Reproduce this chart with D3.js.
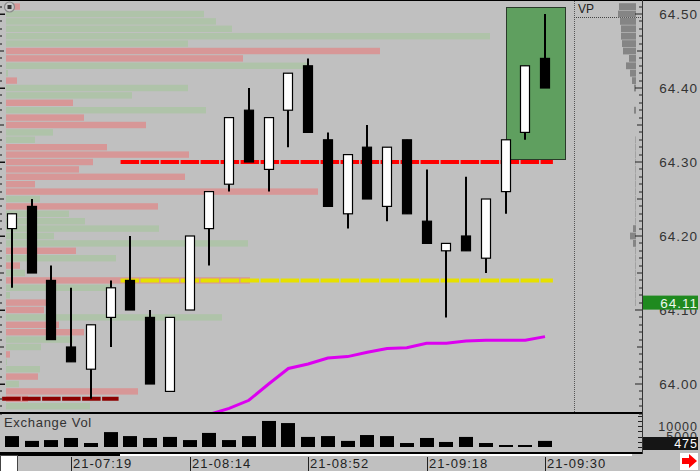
<!DOCTYPE html>
<html>
<head>
<meta charset="utf-8">
<script src="https://cdn.jsdelivr.net/npm/d3@7"></script>
<style>
body { margin: 0; background: #c0c0c0; }
svg { display: block; font-family: "Liberation Sans", Arial, sans-serif; }
</style>
</head>
<body>
<svg width="700" height="471"></svg>
<script>
// candles, oldest first
var opens  = [64.21,64.24,64.14,64.05,64.02,64.09,64.14,64.09,63.99,64.10,64.21,64.27,64.37,64.29,64.37,64.43,64.33,64.23,64.32,64.24,64.33,64.22,64.18,64.20,64.17,64.26,64.34,64.44];
var highs  = [64.23,64.25,64.16,64.13,64.08,64.14,64.20,64.10,64.09,64.20,64.26,64.36,64.40,64.36,64.42,64.44,64.34,64.31,64.35,64.32,64.33,64.29,64.19,64.28,64.25,64.33,64.43,64.50];
var lows   = [64.13,64.15,64.06,64.03,63.98,64.05,64.10,64.00,63.99,64.10,64.16,64.26,64.30,64.26,64.32,64.34,64.24,64.21,64.25,64.22,64.23,64.19,64.09,64.18,64.15,64.23,64.33,64.40];
var closes = [64.23,64.15,64.06,64.03,64.08,64.13,64.10,64.00,64.09,64.20,64.26,64.36,64.30,64.36,64.42,64.34,64.24,64.31,64.25,64.32,64.23,64.19,64.19,64.18,64.25,64.33,64.43,64.40];
var volumes = [5200,2900,3300,4300,1900,7100,5200,4300,4800,3300,6700,3300,5200,12400,11400,4800,5200,2900,5700,5200,1900,4300,2400,4800,1900,950,950,2900];

// moving average line (starts at candle 10)
var maStart = 10;
var maValues = [63.959,63.967,63.978,64.000,64.021,64.027,64.035,64.037,64.043,64.048,64.049,64.055,64.055,64.058,64.059,64.059,64.059,64.064];

// time labels on candle index
var timeIdx = [3, 9, 15, 21, 27];
var timeLabels = ["21-07:19", "21-08:14", "21-08:52", "21-09:18", "21-09:30"];

var priceTicks = [64.00, 64.10, 64.20, 64.30, 64.40, 64.50];
var volTicks = [10000, 5000];
var lastPrice = 64.11;
var lastVol = 475;

// left volume-at-price rows (g = buy, r = sell)
var profPrices = [64.51,64.50,64.49,64.48,64.47,64.46,64.45,64.44,64.43,64.42,64.41,64.40,64.39,64.38,64.37,64.36,64.35,64.34,64.33,64.32,64.31,64.30,64.29,64.28,64.27,64.26,64.25,64.24,64.23,64.22,64.21,64.20,64.19,64.18,64.17,64.16,64.15,64.14,64.13,64.12,64.11,64.10,64.09,64.08,64.07,64.06,64.05,64.04,64.03,64.02,64.01,64.00,63.99,63.98,63.97];
var profVol = [140,1980,2100,2260,4840,1820,3740,2370,3010,20,110,1820,1260,670,2000,780,1400,470,290,1010,1830,870,730,1790,290,3120,340,1520,630,790,1530,480,2420,700,1100,140,190,2440,1040,40,410,380,2160,530,780,670,350,40,10,340,320,130,1320,220,840];
var profSide = ["r","g","g","g","g","g","r","r","g","g","r","g","g","r","g","r","r","g","g","r","r","r","r","r","r","r","g","r","g","g","g","g","g","r","g","r","g","r","g","g","r","r","g","r","r","g","g","r","g","g","r","g","r","r","g"];

// right VP column
var vpPrices = [64.51,64.50,64.49,64.48,64.47,64.46,64.45,64.44,64.43,64.42,64.41,64.40,64.37,64.33,64.32,64.31,64.30,64.29,64.28,64.27,64.26,64.25,64.24,64.23,64.22,64.21,64.20,64.19,64.18,64.17,64.16,64.15,64.14,64.13,64.12,64.11];
var vpVol = [170,180,160,150,150,140,130,70,100,60,40,20,20,10,10,10,10,10,10,10,10,10,10,10,10,30,60,30,10,10,10,10,10,10,10,10];

// horizontal level lines: price, from/to candle index
var levelPrices = [64.30, 64.14, 63.98];
var levelFrom = [5.5, 5.5, -0.5];
var levelTo = [27.4, 27.4, 5.4];
var levelColors = ["#ff0000", "#e6e000", "#8c0000"];

// drawn rectangle
var boxIdx = [25, 28];
var boxPrice = [64.304, 64.51];

var svg = d3.select("svg"),
    width = +svg.attr("width"),
    height = +svg.attr("height");

var axisX = 642, mainBottom = 412, volBase = 447, volBottom = 452;

var x = d3.scaleLinear().domain([0, 27]).range([12, 545]);
var y = d3.scaleLinear().domain([64.00, 64.50]).range([384, 14]);
var yv = d3.scaleLinear().domain([0, 10000]).range([volBase, 426]);
var pw = d3.scaleLinear().domain([0, 1000]).range([0, 100]);
var vw = d3.scaleLinear().domain([0, 100]).range([0, 10]);

svg.append("rect").attr("width", width).attr("height", height).attr("fill", "#c0c0c0");

svg.append("defs").append("clipPath").attr("id", "clip")
    .append("rect").attr("x", 0).attr("y", 1).attr("width", axisX).attr("height", mainBottom - 1);

var main = svg.append("g").attr("clip-path", "url(#clip)");

// left profile
main.selectAll(".prof")
    .data(profPrices)
    .enter()
    .append("rect")
    .attr("class", "prof")
    .attr("x", 6)
    .attr("y", function (d) { return y(d) - 3.2; })
    .attr("height", 6.4)
    .attr("width", function (d, i) { return pw(profVol[i]); })
    .attr("fill", function (d, i) { return profSide[i] == "g" ? "#afc3a9" : "#d79797"; });

// green box
main.append("rect")
    .attr("x", Math.round(x(boxIdx[0])) + 0.5)
    .attr("y", Math.round(y(boxPrice[1])) + 0.5)
    .attr("width", Math.round(x(boxIdx[1])) - Math.round(x(boxIdx[0])))
    .attr("height", Math.round(y(boxPrice[0])) - Math.round(y(boxPrice[1])))
    .attr("fill", "#5f9f5f")
    .attr("stroke", "#2a3a2a");

// level lines
main.selectAll(".level")
    .data(levelPrices)
    .enter()
    .append("line")
    .attr("class", "level")
    .attr("x1", function (d, i) { return x(levelFrom[i]); })
    .attr("x2", function (d, i) { return x(levelTo[i]); })
    .attr("y1", function (d) { return y(d); })
    .attr("y2", function (d) { return y(d); })
    .attr("stroke", function (d, i) { return levelColors[i]; })
    .attr("stroke-width", 4)
    .attr("stroke-dasharray", "18.5,1.5");

// moving average
var ma = d3.line()
    .x(function (d, i) { return x(maStart + i); })
    .y(function (d) { return y(d); });

main.append("path")
    .datum(maValues)
    .attr("d", ma)
    .attr("fill", "none")
    .attr("stroke", "#dc00f0")
    .attr("stroke-width", 3);

// candles
var candles = opens.map(function (o, i) {
    return {i: i, o: o, h: highs[i], l: lows[i], c: closes[i]};
});

main.selectAll(".wick")
    .data(candles)
    .enter()
    .append("line")
    .attr("class", "wick")
    .attr("x1", function (d) { return Math.round(x(d.i)); })
    .attr("x2", function (d) { return Math.round(x(d.i)); })
    .attr("y1", function (d) { return y(d.h); })
    .attr("y2", function (d) { return y(d.l); })
    .attr("stroke", "#000")
    .attr("stroke-width", 2);

main.selectAll(".body")
    .data(candles)
    .enter()
    .append("rect")
    .attr("class", "body")
    .attr("x", function (d) { return Math.round(x(d.i)) - 4.5; })
    .attr("width", 9)
    .attr("y", function (d) { return y(Math.max(d.o, d.c)); })
    .attr("height", function (d) { return Math.max(1, Math.abs(y(d.o) - y(d.c))); })
    .attr("fill", function (d) { return d.c >= d.o ? "#fff" : "#000"; })
    .attr("stroke", "#000")
    .attr("stroke-width", 1.2);

// VP column
svg.append("line")
    .attr("x1", 574.5).attr("x2", 574.5).attr("y1", 1).attr("y2", mainBottom)
    .attr("stroke", "#555").attr("stroke-dasharray", "1,1");
svg.append("line")
    .attr("x1", 574).attr("x2", axisX).attr("y1", 17.5).attr("y2", 17.5)
    .attr("stroke", "#444").attr("stroke-dasharray", "1,1");
svg.append("text")
    .attr("x", 578).attr("y", 13)
    .attr("font-size", 12).attr("fill", "#222")
    .text("VP");

svg.selectAll(".vp")
    .data(vpPrices)
    .enter()
    .append("rect")
    .attr("class", "vp")
    .attr("x", function (d, i) { return 636 - vw(vpVol[i]); })
    .attr("width", function (d, i) { return vw(vpVol[i]); })
    .attr("y", function (d) { return y(d) - 3.4; })
    .attr("height", 6.8)
    .attr("fill", function (d, i) { return vpVol[i] > 10 ? "#858585" : "#a2a2a2"; });

// volume bars
svg.append("text")
    .attr("x", 4).attr("y", 427)
    .attr("font-size", 13).attr("letter-spacing", 0.7).attr("fill", "#333")
    .text("Exchange Vol");

svg.selectAll(".vol")
    .data(volumes)
    .enter()
    .append("rect")
    .attr("class", "vol")
    .attr("x", function (d, i) { return Math.round(x(i)) - 7; })
    .attr("width", 14)
    .attr("y", function (d) { return yv(d); })
    .attr("height", function (d) { return volBase - yv(d); })
    .attr("fill", "#000");

// frame lines
svg.append("rect").attr("x", 0).attr("y", 0).attr("width", width).attr("height", 1).attr("fill", "#000");
svg.append("rect").attr("x", 0).attr("y", mainBottom).attr("width", axisX).attr("height", 2).attr("fill", "#000");
svg.append("rect").attr("x", 0).attr("y", volBottom).attr("width", axisX).attr("height", 2).attr("fill", "#000");
svg.append("rect").attr("x", 0).attr("y", volBottom + 2).attr("width", 120).attr("height", 2).attr("fill", "#000");
svg.append("rect").attr("x", 120).attr("y", volBottom + 2).attr("width", 512).attr("height", 2).attr("fill", "#fff");
svg.append("line")
    .attr("x1", axisX + 0.5).attr("x2", axisX + 0.5).attr("y1", 0).attr("y2", volBottom + 2)
    .attr("stroke", "#333");

// price ticks, both sides
var tickLevels = d3.range(6396, 6453).map(function (v) { return v / 100; });
function tickLen(p, big, mid, small) {
    var k = Math.round(p * 100);
    if (k % 10 == 0) return big;
    if (k % 5 == 0) return mid;
    return small;
}
svg.selectAll(".ltick")
    .data(tickLevels)
    .enter()
    .append("rect")
    .attr("class", "ltick")
    .attr("x", 0)
    .attr("y", function (d) { return Math.round(y(d)) - 0.5; })
    .attr("width", function (d) { return tickLen(d, 5, 4, 2); })
    .attr("height", function (d) { return tickLen(d, 1.5, 1, 1); })
    .attr("fill", "#111");
svg.selectAll(".rtick")
    .data(tickLevels)
    .enter()
    .append("rect")
    .attr("class", "rtick")
    .attr("x", function (d) { return axisX - tickLen(d, 7, 5, 3); })
    .attr("y", function (d) { return Math.round(y(d)) - 0.5; })
    .attr("width", function (d) { return tickLen(d, 7, 5, 3); })
    .attr("height", 1)
    .attr("fill", "#222");

svg.selectAll(".vtick")
    .data(d3.range(0, 15001, 2500))
    .enter()
    .append("rect")
    .attr("x", axisX - 4)
    .attr("y", function (d) { return Math.round(yv(d)); })
    .attr("width", 4)
    .attr("height", 1)
    .attr("fill", "#222");

svg.selectAll(".plabel")
    .data(priceTicks)
    .enter()
    .append("text")
    .attr("class", "plabel")
    .attr("x", 698)
    .attr("y", function (d) { return y(d) + 4.5; })
    .attr("text-anchor", "end")
    .attr("font-size", 13.5)
    .attr("letter-spacing", 1)
    .attr("fill", "#333")
    .text(function (d) { return d.toFixed(2); });

svg.selectAll(".vlabel")
    .data(volTicks)
    .enter()
    .append("text")
    .attr("x", 698)
    .attr("y", function (d) { return yv(d) + 4.5; })
    .attr("text-anchor", "end")
    .attr("font-size", 12.5)
    .attr("letter-spacing", 1)
    .attr("fill", "#333")
    .text(function (d) { return d; });

// last price / last volume badges
svg.append("rect")
    .attr("x", axisX + 1).attr("y", y(lastPrice) - 7).attr("width", 55).attr("height", 14)
    .attr("fill", "#1f8a1f");
svg.append("text")
    .attr("x", 698).attr("y", y(lastPrice) + 5)
    .attr("text-anchor", "end").attr("font-size", 13.5).attr("letter-spacing", 1)
    .attr("fill", "#eef8ee")
    .text(lastPrice.toFixed(2));

svg.append("rect")
    .attr("x", axisX + 1).attr("y", 437).attr("width", 55).attr("height", 13)
    .attr("fill", "#151515");
svg.append("text")
    .attr("x", 698).attr("y", 448)
    .attr("text-anchor", "end").attr("font-size", 12.5).attr("letter-spacing", 1)
    .attr("fill", "#fff")
    .text(lastVol);

// time axis
var tg = svg.selectAll(".time")
    .data(timeIdx)
    .enter()
    .append("g")
    .attr("class", "time")
    .attr("transform", function (d) { return "translate(" + Math.round(x(d)) + ",0)"; });
tg.append("rect").attr("x", 0).attr("y", 457).attr("width", 1).attr("height", 14).attr("fill", "#222");
tg.append("text")
    .attr("x", 2).attr("y", 468)
    .attr("font-size", 13).attr("letter-spacing", 1).attr("fill", "#222")
    .text(function (d, i) { return timeLabels[i]; });

// corner widgets
svg.append("rect").attr("x", 0.5).attr("y", 455.5).attr("width", 17).attr("height", 16)
    .attr("fill", "#fff").attr("stroke", "#444");
svg.append("rect").attr("x", 680).attr("y", 453).attr("width", 18).attr("height", 17).attr("fill", "#fff");
svg.append("path")
    .attr("d", "M682,458 L689,458 L689,454 L697,461 L689,468 L689,464 L682,464 Z")
    .attr("fill", "#ff0000");

svg.append("circle").attr("cx", 9.5).attr("cy", 7).attr("r", 5)
    .attr("fill", "#c8c8c8").attr("stroke", "#8a8a8a").attr("stroke-width", 1.2);
svg.append("rect").attr("x", 7.5).attr("y", 5).attr("width", 4).attr("height", 4).attr("fill", "#333");
</script>
</body>
</html>
